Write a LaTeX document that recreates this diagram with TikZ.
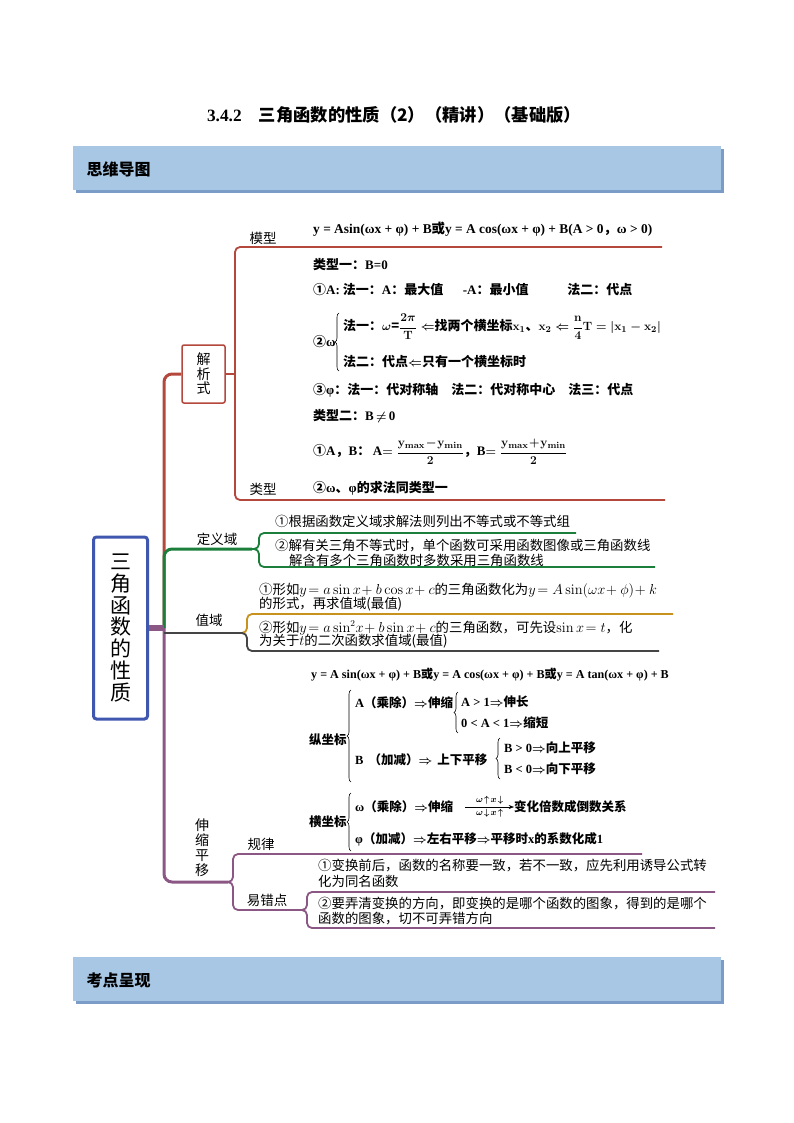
\documentclass[tikz,border=0pt]{standalone}
\usepackage{amsmath}
\usepackage[no-math]{fontspec}
\setmainfont{Noto Sans CJK SC}
\newfontfamily\lat{Liberation Serif}
\usetikzlibrary{arrows.meta,decorations.pathreplacing}

\definecolor{redbr}{HTML}{B5483C}
\definecolor{greenbr}{HTML}{1B7F3B}
\definecolor{graybr}{HTML}{454545}
\definecolor{orangebr}{HTML}{C8921C}
\definecolor{purplebr}{HTML}{8B5785}
\definecolor{rootblue}{HTML}{3F57AE}
\definecolor{barfill}{HTML}{A8C7E5}
\definecolor{barshadow}{HTML}{7C9CC8}

\newcommand\fs[1]{\fontsize{#1}{#1}\selectfont}
\newcommand\la[1]{{\lat #1}}

\begin{document}
\begin{tikzpicture}[x=1pt,y=-1pt,>=Stealth,
  br/.style={line width=3pt,rounded corners=8pt},
  sub/.style={line width=1.8pt,rounded corners=5pt},
  lbl/.style={font=\fs{13.5}},
  txt/.style={anchor=west,inner sep=0pt,font=\fs{13.4}},
  bd/.style={anchor=west,inner sep=0pt,font=\fs{13}\bfseries\boldmath},
  bs/.style={anchor=west,inner sep=0pt,font=\fs{12.5}\bfseries\boldmath},
  brc/.style={decorate,decoration={brace,amplitude=4pt},line width=0.6pt}]
  \useasboundingbox (0,0) rectangle (794,1123);
  \fill[white] (0,0) rectangle (794,1123);

  % title and header bars
  \node[font=\fs{17.3}\bfseries] (title) at (394,115) {\la{3.4.2}\hspace{1em}三角函数的性质（2）（精讲）（基础版）};
  \fill[barshadow] (76,149) rectangle (724,193);
  \fill[barfill] (73,146) rectangle (721,190);
  \node[anchor=west,font=\fs{16}\bfseries] (head1) at (83,169) {思维导图};
  \fill[barshadow] (76,960) rectangle (724,1004);
  \fill[barfill] (73,957) rectangle (721,1001);
  \node[anchor=west,font=\fs{16}\bfseries] (head2) at (83,980) {考点呈现};

  % root and first level
  \node[draw=rootblue,line width=3pt,rounded corners=3pt,minimum width=54pt,minimum height=182pt,
        inner sep=0pt,align=center,font={\fontsize{21}{21.7}\selectfont}] (root) at (120.5,628)
        {三\\角\\函\\数\\的\\性\\质};
  \node[draw=redbr,line width=1.5pt,rounded corners=2pt,minimum width=43pt,minimum height=58pt,
        inner sep=0pt,align=center,font={\fontsize{14}{14.5}\selectfont}] (jxs) at (203.5,374) {解\\析\\式};
  \node[lbl] (dy) at (217,539) {定义域};
  \node[lbl] (zy) at (209,620) {值域};
  \node[align=center,font={\fontsize{14}{15}\selectfont}] (ss) at (202,848) {伸\\缩\\平\\移};

  \coordinate (hub) at (164,628);
  \coordinate (dyb) at (252,549);
  \coordinate (zyb) at (240,633);
  \coordinate (ssb) at (228,882);
  \coordinate (jxb) at (235,374);
  \coordinate (ycb) at (303,910);

  \draw[redbr,br] (hub) |- (jxs.west);
  \draw[greenbr,br] (hub) |- (dyb);
  \draw[purplebr,br] (hub) |- (ssb);
  \draw[graybr,line width=2pt] (164,633) -- (zyb);
  \draw[purplebr,line width=6pt] (root.east) -- (hub);

  % 解析式
  \draw[redbr,sub] (jxs.east) -- (jxb);
  \draw[redbr,sub] (662,247) -| (jxb) |- (665,500);
  \node[lbl] (mx) at (263,238) {模型};
  \node[lbl] (lx) at (263,489) {类型};
  \node[bd,font=\fs{13.4}\bfseries] (a1) at (313,229) {\la{y = Asin(ωx + φ) + B}或\la{y = A cos(ωx + φ) + B(A > 0}，\la{ω > 0)}};
  \node[bd] (a2) at (313,265) {类型一：\la{B=0}};
  \node[bd] (a3) at (313,290) {①\la{A:} 法一：\la{A}：最大值\hspace{1.5em}\la{-A}：最小值\hspace{3em}法二：代点};
  \node[bd] (a4) at (313,342) {②\la{ω}};
  \draw[brc] (339,371) -- (339,313);
  \node[bd] (a5) at (343,327) {法一：$\omega$=$\dfrac{2\pi}{\mathbf{T}}\Leftarrow$找两个横坐标$\mathbf{x}_1$、$\mathbf{x}_2\Leftarrow\dfrac{\mathbf{n}}{4}\mathbf{T}=\left|\mathbf{x}_1-\mathbf{x}_2\right|$};
  \node[bd] (a6) at (343,362) {法二：代点$\Leftarrow$只有一个横坐标时};
  \node[bd] (a7) at (313,390) {③\la{φ}：法一：代对称轴\hspace{1em}法二：代对称中心\hspace{1em}法三：代点};
  \node[bd] (a8) at (313,416) {类型二：\la{B}$\,\neq\,$\la{0}};
  \node[bd] (a9) at (313,452) {①\la{A}，\la{B}：\hspace{0.2em}\la{A}$=\dfrac{\mathbf{y}_{\mathbf{max}}\!-\!\mathbf{y}_{\mathbf{min}}}{2}$，\la{B}$=\dfrac{\mathbf{y}_{\mathbf{max}}\!+\!\mathbf{y}_{\mathbf{min}}}{2}$};
  \node[bd] (a10) at (313,488) {②\la{ω}、\la{φ}的求法同类型一};

  % 定义域
  \draw[greenbr,sub] (576,533) -| (259,549) -- (dyb);
  \draw[greenbr,sub] (dyb) -- (259,549) |- (655,567);
  \node[txt] (d1) at (275,521) {①根据函数定义域求解法则列出不等式或不等式组};
  \node[txt] (d2) at (275,546) {②解有关三角不等式时，单个函数可采用函数图像或三角函数线};
  \node[txt] (d3) at (289,560) {解含有多个三角函数时多数采用三角函数线};

  % 值域
  \draw[orangebr,sub] (673,614) -| (247,633) -- (zyb);
  \draw[graybr,sub] (zyb) -- (247,633) |- (659,651);
  \node[txt] (z1) at (259,591) {①形如$y\!=a\sin x\!+b\cos x\!+c$的三角函数化为$y\!=A\sin(\omega x\!+\phi)\!+k$};
  \node[txt] (z2) at (259,604) {的形式，再求值域(最值)};
  \node[txt] (z3) at (259,628) {②形如$y\!=a\sin^2\!x\!+b\sin x\!+c$的三角函数，可先设$\sin x\!=t$，化};
  \node[txt] (z4) at (259,641) {为关于$t$的二次函数求值域(最值)};

  % 伸缩平移
  \draw[purplebr,sub] (642,854) -| (233,882) -- (ssb);
  \draw[purplebr,sub] (ssb) -- (233,882) |- (ycb);
  \draw[purplebr,sub] (715,892) -| (307,910) -- (ycb);
  \draw[purplebr,sub] (ycb) -- (307,910) |- (715,928);
  \node[lbl] (gl) at (261,844) {规律};
  \node[lbl] (yc) at (267,900) {易错点};

  \node[bs,font=\fs{12.1}\bfseries] (s1) at (311,675) {\la{y = A sin(ωx + φ) + B}或\la{y = A cos(ωx + φ) + B}或\la{y = A tan(ωx + φ) + B}};
  \node[bs] (zz) at (309,740) {纵坐标};
  \draw[brc] (351,782) -- (351,690);
  \node[bs] (s2) at (355,703) {\la{A}（乘除）$\Rightarrow$伸缩};
  \draw[brc] (458,733) -- (458,692);
  \node[bs] (s3) at (461,702) {\la{A > 1}$\Rightarrow$伸长};
  \node[bs] (s4) at (461,723) {\la{0 < A < 1}$\Rightarrow$缩短};
  \node[bs] (s5) at (355,760) {\la{B}\hspace{0.4em}（加减）$\Rightarrow$\hspace{0.4em}上下平移};
  \draw[brc] (500,779) -- (500,738);
  \node[bs] (s6) at (504,748) {\la{B > 0}$\Rightarrow$向上平移};
  \node[bs] (s7) at (504,769) {\la{B < 0}$\Rightarrow$向下平移};
  \node[bs] (hz) at (309,822) {横坐标};
  \draw[brc] (351,851) -- (351,793);
  \node[bs] (h1) at (355,807) {\la{ω}（乘除）$\Rightarrow$伸缩};
  \node[bs] (h2) at (514,807) {变化倍数成倒数关系};
  \draw[->,line width=0.5pt] ([xshift=12pt]h1.east) -- node[above=-1pt,font=\fs{9}]{$\boldsymbol{\omega\!\uparrow\!x\!\downarrow}$}
        node[below=-1pt,font=\fs{9}]{$\boldsymbol{\omega\!\downarrow\!x\!\uparrow}$} (h2.west);
  \node[bs] (h3) at (355,839) {\la{φ}（加减）$\Rightarrow$左右平移$\Rightarrow$平移时\la{x}的系数化成\la{1}};

  \node[txt] (y1) at (318,866) {①变换前后，函数的名称要一致，若不一致，应先利用诱导公式转};
  \node[txt] (y2) at (318,881) {化为同名函数};
  \node[txt] (y3) at (318,904) {②要弄清变换的方向，即变换的是哪个函数的图象，得到的是哪个};
  \node[txt] (y4) at (318,919) {函数的图象，切不可弄错方向};
\end{tikzpicture}
\end{document}
